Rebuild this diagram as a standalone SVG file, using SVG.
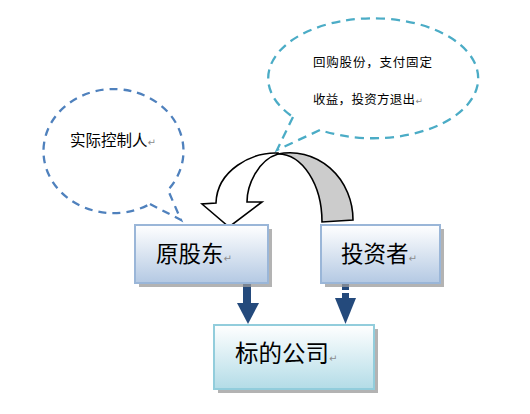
<svg xmlns="http://www.w3.org/2000/svg" width="530" height="414" viewBox="0 0 530 414">
<defs>
<linearGradient id="gBlue" x1="0" y1="0" x2="0" y2="1">
<stop offset="0" stop-color="#ffffff"/>
<stop offset="1" stop-color="#b4c9e3"/>
</linearGradient>
<linearGradient id="gCyan" x1="0" y1="0" x2="0" y2="1">
<stop offset="0" stop-color="#ffffff"/>
<stop offset="1" stop-color="#b3dce7"/>
</linearGradient>
<style>
.cjk{font-family:"Noto Sans CJK SC","Noto Sans CJK TC",sans-serif;fill:#000}
.pm{font-family:"DejaVu Sans",sans-serif;fill:#8c8c8c}
.shadow{fill:#9a9a9a;opacity:0.75}
.boxB{fill:url(#gBlue);stroke:#9ab6d8;stroke-width:2}
.boxC{fill:url(#gCyan);stroke:#92cddc;stroke-width:2}
.call1{fill:none;stroke:#4f81bd;stroke-width:2.3;stroke-dasharray:8 6}
.call2{fill:none;stroke:#4bacc6;stroke-width:2.3;stroke-dasharray:9 6}
.arr{fill:#244a7c}
.curve{stroke:#000;stroke-width:1.6;stroke-linejoin:miter}
</style>
</defs>
<g id="callout-left">
<path class="call1" d="M150,204 L181,220 L168,190 A70 62 0 1 0 150,204"/>
<text class="cjk" x="70" y="146" font-size="15.5">实际控制人<tspan class="pm" font-size="10">↵</tspan></text>
</g>
<g id="callout-right">
<path class="call2" d="M293,117 L277,150 L320,130 A105 60 0 1 0 293,117"/>
<text class="cjk" x="313" y="67" font-size="12.5" letter-spacing="0.8">回购股份，支付固定</text>
<text class="cjk" x="313" y="104" font-size="12.5" letter-spacing="0.3">收益，投资方退出<tspan class="pm" font-size="9">↵</tspan></text>
</g>
<g id="connectors">
<g id="curved-arrow">
<path class="curve" fill="#cccccc" d="M278,154 A63 67 0 0 1 353,220 L322,222 A44 68 0 0 0 278,154 Z"/>
<path class="curve" fill="#ffffff" d="M278,153 C252,152 217,170 216,203 L202,204 L229,227 L262,202 L247,202 C247,185 258,160 278,154 Z"/>
</g>
<g id="arrow-left">
<rect class="arr" x="243" y="284" width="8" height="20"/>
<polygon class="arr" points="237,303 259,303 248,324"/>
</g>
<g id="arrow-right">
<rect class="arr" x="342" y="284" width="7" height="6"/>
<rect class="arr" x="342" y="293" width="7" height="6"/>
<polygon class="arr" points="335,298 356,298 345.5,324"/>
</g>
</g>
<g id="node-yuangudong">
<rect class="shadow" x="139" y="229" width="133" height="58"/>
<rect class="boxB" x="135" y="225" width="133" height="58"/>
<text class="cjk" x="156" y="262" font-size="22.5">原股东<tspan class="pm" font-size="10">↵</tspan></text>
</g>
<g id="node-touzizhe">
<rect class="shadow" x="325" y="229" width="119" height="58"/>
<rect class="boxB" x="321" y="225" width="119" height="58"/>
<text class="cjk" x="341" y="262" font-size="22.5">投资者<tspan class="pm" font-size="10">↵</tspan></text>
</g>
<g id="node-biaodegongsi">
<rect class="shadow" x="218" y="329" width="160" height="64"/>
<rect class="boxC" x="214" y="325" width="160" height="64"/>
<text class="cjk" x="235" y="362" font-size="23.5">标的公司<tspan class="pm" font-size="10">↵</tspan></text>
</g>
</svg>
